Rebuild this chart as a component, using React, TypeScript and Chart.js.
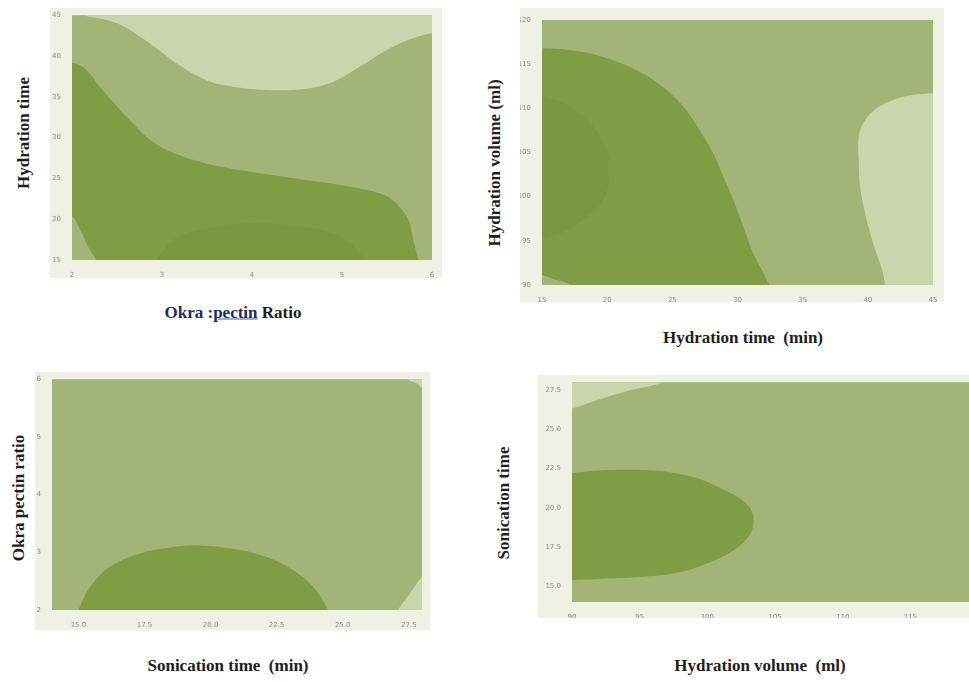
import React, { useEffect, useRef } from 'react';
import { Chart, registerables } from 'chart.js';

Chart.register(...registerables);

// ---- colours of the contour levels ----
const LIGHT = '#c9d5aa';
const MID = '#a2b577';
const DARK = '#809d46';
const DARKER = '#7a983f';
const FRAME = '#eef1e4';

// ---- Panel 1: Okra:pectin ratio (x) vs Hydration time (y) ----
const p1XTicks = [2, 3, 4, 5, 6];
const p1YTicks = [15, 20, 25, 30, 35, 40, 45];
const p1LightX = [2.16, 2.5, 2.87, 3.16, 3.5, 3.87, 4.24, 4.61, 4.9, 5.2, 5.46, 5.72, 6.0, 6.3, 6.3, 2.1];
const p1LightY = [44.9, 44.0, 41.5, 39.1, 37.0, 36.1, 35.8, 36.0, 36.8, 38.7, 40.5, 41.9, 42.8, 43.0, 46.5, 46.5];
const p1DarkX = [1.8, 2.03, 2.16, 2.31, 2.5, 2.68, 2.87, 3.13, 3.5, 3.87, 4.24, 4.61, 4.98, 5.27, 5.5, 5.64, 5.74, 5.79, 5.85, 5.88, 1.8];
const p1DarkY = [39.4, 39.1, 38.3, 36.2, 33.8, 31.7, 29.7, 28.1, 26.8, 26.0, 25.4, 24.8, 24.2, 23.6, 22.8, 21.5, 19.9, 17.5, 15.0, 13.5, 13.5];
const p1CoreX = [2.9, 2.94, 3.13, 3.42, 3.98, 4.53, 4.98, 5.27, 5.3];
const p1CoreY = [14.0, 15.0, 17.5, 18.7, 19.5, 19.1, 17.9, 15.0, 14.0];
const p1CornerX = [1.8, 2.0, 2.09, 2.18, 2.27, 2.32, 1.8];
const p1CornerY = [20.5, 20.3, 18.7, 16.6, 15.0, 13.5, 13.5];

// ---- Panel 2: Hydration time (x) vs Hydration volume (y) ----
const p2XTicks = [15, 20, 25, 30, 35, 40, 45];
const p2YTicks = [90, 95, 100, 105, 110, 115, 120];
const p2DarkX = [13.5, 15.0, 17.15, 19.7, 22.27, 24.3, 25.84, 27.1, 28.15, 28.9, 29.7, 30.45, 31.2, 32.37, 32.6, 13.5];
const p2DarkY = [116.9, 116.8, 116.6, 115.8, 114.3, 112.4, 110.2, 107.5, 104.9, 102.3, 99.6, 96.6, 93.6, 90.2, 88.5, 88.5];
const p2CoreX = [13.5, 15.0, 17.15, 18.94, 19.96, 20.2, 19.7, 18.17, 16.38, 15.0, 13.5];
const p2CoreY = [111.4, 111.3, 110.2, 107.9, 105.3, 102.6, 99.6, 97.4, 95.8, 95.3, 95.2];
const p2CornerX = [13.5, 15.0, 16.0, 17.2, 17.6, 13.5];
const p2CornerY = [91.2, 91.1, 90.6, 90.0, 88.5, 88.5];
const p2LightX = [46.5, 45.0, 42.7, 40.9, 39.8, 39.3, 39.3, 39.4, 39.8, 40.4, 41.1, 41.3, 41.4, 46.5];
const p2LightY = [111.7, 111.7, 111.3, 110.2, 108.7, 106.8, 104.1, 101.1, 98.1, 94.7, 91.7, 90.2, 88.5, 88.5];

// ---- Panel 3: Sonication time (x) vs Okra pectin ratio (y) ----
const p3XTicks = [15.0, 17.5, 20.0, 22.5, 25.0, 27.5];
const p3YTicks = [2, 3, 4, 5, 6];
const p3DarkX = [14.9, 15.0, 15.44, 16.19, 17.33, 18.59, 19.6, 20.86, 22.12, 23.13, 23.89, 24.45, 24.55];
const p3DarkY = [1.8, 2.0, 2.4, 2.75, 2.98, 3.09, 3.12, 3.06, 2.92, 2.69, 2.4, 2.0, 1.8];
const p3LightBX = [27.0, 27.1, 27.55, 27.99, 28.5, 28.5];
const p3LightBY = [1.8, 2.0, 2.29, 2.57, 2.8, 1.8];
const p3LightTX = [27.3, 27.45, 27.8, 28.0, 28.5, 28.5];
const p3LightTY = [6.2, 6.0, 5.93, 5.85, 5.8, 6.2];

// ---- Panel 4: Hydration volume (x) vs Sonication time (y) ----
const p4XTicks = [90, 95, 100, 105, 110, 115, 120];
const p4YTicks = [15.0, 17.5, 20.0, 22.5, 25.0, 27.5];
const p4DarkX = [88.5, 90, 91.83, 94.29, 96.75, 99.22, 101.2, 102.67, 103.4, 103.17, 101.93, 99.96, 97.5, 95.03, 92.57, 90, 88.5];
const p4DarkY = [22.2, 22.22, 22.37, 22.43, 22.33, 21.9, 21.17, 20.43, 19.49, 18.33, 17.28, 16.44, 15.81, 15.6, 15.5, 15.39, 15.35];
const p4LightX = [88.5, 90, 91.83, 94.29, 96.75, 97.5, 88.5];
const p4LightY = [26.1, 26.32, 26.85, 27.48, 28.0, 28.5, 28.5];

type Region = { xs: number[]; ys: number[]; color: string };

type PanelCfg = {
  left: number; top: number; width: number; height: number;
  yAxisW: number; xAxisH: number; padTop: number; padRight: number;
  xMin: number; xMax: number; yMin: number; yMax: number;
  xTicks: number[]; yTicks: number[];
  xFmt: (v: number) => string; yFmt: (v: number) => string;
  regions: Region[]; // drawn bottom first
};

const intFmt = (v: number) => String(Math.round(v));
const oneFmt = (v: number) => v.toFixed(1);

const bgPlugin = {
  id: 'contourBg',
  beforeDraw(chart: any) {
    const { ctx, chartArea: a, width, height } = chart;
    ctx.save();
    ctx.fillStyle = FRAME;
    ctx.fillRect(0, 0, width, height);
    ctx.fillStyle = MID;
    ctx.fillRect(a.left, a.top, a.right - a.left, a.bottom - a.top);
    ctx.restore();
  },
};

function Panel({ cfg }: { cfg: PanelCfg }) {
  const ref = useRef<HTMLCanvasElement | null>(null);
  useEffect(() => {
    if (!ref.current) return;
    const n = cfg.regions.length;
    const datasets = cfg.regions.map((r, i) => ({
      data: r.xs.map((x, k) => ({ x, y: r.ys[k] })),
      fill: 'shape',
      backgroundColor: r.color,
      borderColor: r.color,
      borderWidth: 0,
      pointRadius: 0,
      tension: 0.35,
      order: n - i,
    }));
    const tickFont = { size: 7, family: 'DejaVu Sans' };
    const chart = new Chart(ref.current, {
      type: 'line',
      data: { datasets: datasets as any },
      plugins: [bgPlugin],
      options: {
        animation: false,
        responsive: false,
        maintainAspectRatio: false,
        layout: { padding: { top: cfg.padTop, right: cfg.padRight, left: 0, bottom: 0 } },
        plugins: { legend: { display: false }, tooltip: { enabled: false }, title: { display: false } },
        scales: {
          x: {
            type: 'linear',
            min: cfg.xMin,
            max: cfg.xMax,
            grid: { display: false },
            border: { display: false },
            afterBuildTicks: (s: any) => { s.ticks = cfg.xTicks.map((v) => ({ value: v })); },
            afterFit: (s: any) => { s.height = cfg.xAxisH; },
            ticks: {
              font: tickFont, color: '#8a8a82', padding: 3, maxRotation: 0, autoSkip: false,
              callback: (v: any) => cfg.xFmt(Number(v)),
            },
          },
          y: {
            type: 'linear',
            min: cfg.yMin,
            max: cfg.yMax,
            grid: { display: false },
            border: { display: false },
            afterBuildTicks: (s: any) => { s.ticks = cfg.yTicks.map((v) => ({ value: v })); },
            afterFit: (s: any) => { s.width = cfg.yAxisW; },
            ticks: {
              font: tickFont, color: '#8a8a82', padding: 3, autoSkip: false,
              callback: (v: any) => cfg.yFmt(Number(v)),
            },
          },
        },
      } as any,
    });
    return () => chart.destroy();
  }, [cfg]);
  return (
    <canvas
      ref={ref}
      width={cfg.width}
      height={cfg.height}
      style={{ position: 'absolute', left: cfg.left, top: cfg.top, width: cfg.width, height: cfg.height }}
    />
  );
}

const panels: PanelCfg[] = [
  {
    left: 50, top: 8, width: 392, height: 270, yAxisW: 22, xAxisH: 18, padTop: 7, padRight: 10,
    xMin: 2, xMax: 6, yMin: 15, yMax: 45, xTicks: p1XTicks, yTicks: p1YTicks, xFmt: intFmt, yFmt: intFmt,
    regions: [
      { xs: p1LightX, ys: p1LightY, color: LIGHT },
      { xs: p1DarkX, ys: p1DarkY, color: DARK },
      { xs: p1CoreX, ys: p1CoreY, color: DARKER },
      { xs: p1CornerX, ys: p1CornerY, color: MID },
    ],
  },
  {
    left: 520, top: 8, width: 424, height: 294, yAxisW: 22, xAxisH: 17, padTop: 12, padRight: 11,
    xMin: 15, xMax: 45, yMin: 90, yMax: 120, xTicks: p2XTicks, yTicks: p2YTicks, xFmt: intFmt, yFmt: intFmt,
    regions: [
      { xs: p2LightX, ys: p2LightY, color: LIGHT },
      { xs: p2DarkX, ys: p2DarkY, color: DARK },
      { xs: p2CoreX, ys: p2CoreY, color: DARKER },
      { xs: p2CornerX, ys: p2CornerY, color: MID },
    ],
  },
  {
    left: 35, top: 372, width: 395, height: 258, yAxisW: 17, xAxisH: 20, padTop: 6, padRight: 8,
    xMin: 14, xMax: 28, yMin: 2, yMax: 6, xTicks: p3XTicks, yTicks: p3YTicks, xFmt: oneFmt, yFmt: intFmt,
    regions: [
      { xs: p3DarkX, ys: p3DarkY, color: DARK },
      { xs: p3LightBX, ys: p3LightBY, color: LIGHT },
      { xs: p3LightTX, ys: p3LightTY, color: LIGHT },
    ],
  },
  {
    left: 538, top: 375, width: 452, height: 243, yAxisW: 34, xAxisH: 16, padTop: 5, padRight: 12,
    xMin: 90, xMax: 120, yMin: 14, yMax: 28, xTicks: p4XTicks, yTicks: p4YTicks, xFmt: intFmt, yFmt: oneFmt,
    regions: [
      { xs: p4DarkX, ys: p4DarkY, color: DARK },
      { xs: p4LightX, ys: p4LightY, color: LIGHT },
    ],
  },
];

const titleFont: React.CSSProperties = {
  position: 'absolute',
  fontFamily: "'Liberation Serif', 'Times New Roman', serif",
  fontWeight: 'bold',
  fontSize: 17,
  color: '#1e1e1e',
  whiteSpace: 'nowrap',
  lineHeight: 1,
};

function HTitle({ cx, cy, children }: { cx: number; cy: number; children: React.ReactNode }) {
  return <div style={{ ...titleFont, left: cx, top: cy, transform: 'translate(-50%, -50%)' }}>{children}</div>;
}
function VTitle({ cx, cy, children }: { cx: number; cy: number; children: React.ReactNode }) {
  return (
    <div style={{ ...titleFont, left: cx, top: cy, transform: 'translate(-50%, -50%) rotate(-90deg)' }}>{children}</div>
  );
}

export default function App() {
  return (
    <div style={{ position: 'fixed', left: 0, top: 0, width: 969, height: 682, overflow: 'hidden', background: '#ffffff' }}>
      {panels.map((p, i) => (
        <Panel key={i} cfg={p} />
      ))}
      <VTitle cx={23} cy={133}>Hydration time</VTitle>
      <HTitle cx={233} cy={312}>
        <span style={{ color: '#1f2b5e' }}>
          Okra :<span style={{ textDecoration: 'underline', textDecorationColor: '#3b5bd6' }}>pectin</span>
        </span>{' '}
        Ratio
      </HTitle>
      <VTitle cx={494} cy={163}>Hydration volume (ml)</VTitle>
      <HTitle cx={743} cy={337}>Hydration time&nbsp; (min)</HTitle>
      <VTitle cx={18} cy={498}>Okra pectin ratio</VTitle>
      <HTitle cx={228} cy={665}>Sonication time&nbsp; (min)</HTitle>
      <VTitle cx={503} cy={503}>Sonication time</VTitle>
      <HTitle cx={760} cy={665}>Hydration volume&nbsp; (ml)</HTitle>
    </div>
  );
}
